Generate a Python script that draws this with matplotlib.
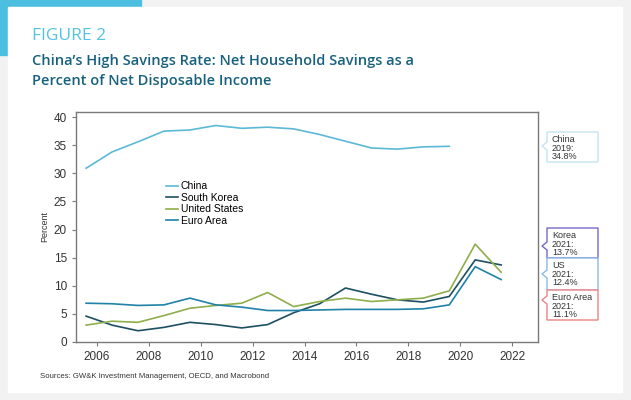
import matplotlib
matplotlib.use("Agg")
import matplotlib.pyplot as plt
from matplotlib.patches import Rectangle, Polygon

# data (annual values plotted mid-year)
years = list(range(2005, 2022))
china = [30.9, 33.8, 35.6, 37.5, 37.7, 38.5, 38.0, 38.2, 37.9, 36.9, 35.7, 34.5, 34.3, 34.7, 34.8]
korea = [4.6, 3.0, 2.0, 2.6, 3.5, 3.1, 2.5, 3.1, 5.2, 6.8, 9.6, 8.5, 7.5, 7.1, 8.1, 14.6, 13.7]
us = [3.0, 3.7, 3.5, 4.7, 6.0, 6.5, 6.9, 8.8, 6.3, 7.2, 7.8, 7.2, 7.5, 7.8, 9.1, 17.4, 12.4]
euro = [6.9, 6.8, 6.5, 6.6, 7.8, 6.6, 6.2, 5.6, 5.6, 5.7, 5.8, 5.8, 5.8, 5.9, 6.6, 13.4, 11.1]
xticks = list(range(2006, 2023, 2))
yticks = list(range(0, 41, 5))

c_china = "#5cb9d6"
c_korea = "#1d4f62"
c_us = "#8fae4c"
c_euro = "#1f82a6"

W, H = 631, 400
fig = plt.figure(figsize=(W / 100, H / 100), dpi=100)
fig.patch.set_facecolor("#f2f2f2")


def fx(x):
    return x / W


def fy(y):
    return 1 - y / H


# accent bar and white card
fig.patches.append(Rectangle((0, fy(55)), fx(141), 55 / H, transform=fig.transFigure,
                             color="#4cbfe0", zorder=0))
fig.patches.append(Rectangle((fx(8), fy(392)), fx(614), 385 / H, transform=fig.transFigure,
                             color="white", zorder=1))

fig.text(fx(32), fy(36), "FIGURE 2", color="#52c3e2", fontsize=12.5, family="Open Sans",
         va="center", ha="left", zorder=3)
fig.text(fx(32), fy(71), "China\u2019s High Savings Rate: Net Household Savings as a\nPercent of Net Disposable Income",
         color="#17617e", fontsize=10.5, family="Open Sans", fontweight="semibold",
         va="center", ha="left", linespacing=1.5, zorder=3)

ax = fig.add_axes([fx(76), fy(342), 462 / W, 230 / H])
ax.set_zorder(3)
off = 0.58
ax.plot([y + off for y in years[:len(china)]], china, color=c_china, lw=1.2, label="China")
ax.plot([y + off for y in years], korea, color=c_korea, lw=1.2, label="South Korea")
ax.plot([y + off for y in years], us, color=c_us, lw=1.2, label="United States")
ax.plot([y + off for y in years], euro, color=c_euro, lw=1.2, label="Euro Area")

ax.set_xlim(2005.19, 2023.0)
ax.set_ylim(0, 40.9)
ax.set_xticks(xticks)
ax.set_yticks(yticks)
for s in ax.spines.values():
    s.set_color("#7a7a7a")
    s.set_linewidth(1.0)
ax.tick_params(colors="#7a7a7a", labelcolor="#333333", labelsize=8.5, length=3)
for lab in ax.get_xticklabels() + ax.get_yticklabels():
    lab.set_family("Liberation Sans")
ax.set_ylabel("Percent", fontsize=6.5, color="#333333", family="Liberation Sans", labelpad=3)

leg = ax.legend(loc="upper left", bbox_to_anchor=(0.175, 0.74), frameon=False,
                prop={"family": "Liberation Sans", "size": 7.5}, handlelength=1.1,
                handletextpad=0.3, labelspacing=0.15)

# end-of-series callout boxes
boxes = [
    (132, 162, 146, "#c4e4f0", "China\n2019:\n34.8%"),
    (228, 258, 246, "#7a68c6", "Korea\n2021:\n13.7%"),
    (258, 290, 274, "#8bb9ea", "US\n2021:\n12.4%"),
    (290, 320, 300, "#ee8383", "Euro Area\n2021:\n11.1%"),
]
x0, x1 = 547, 598
for y0, y1, py, col, txt in boxes:
    pts = [(x0, y0), (x1, y0), (x1, y1), (x0, y1), (x0, py + 4), (x0 - 5, py), (x0, py - 4)]
    fig.patches.append(Polygon([(fx(a), fy(b)) for a, b in pts], closed=True,
                               transform=fig.transFigure, facecolor="white",
                               edgecolor=col, lw=1.0, zorder=4))
    fig.text(fx(x0 + 5), fy(y0 + 3), txt, fontsize=6.5, color="#333333", family="Liberation Sans",
             va="top", ha="left", linespacing=0.95, zorder=5)

fig.text(fx(40), fy(376), "Sources: GW&K Investment Management, OECD, and Macrobond",
         fontsize=5.6, color="#333333", family="Liberation Sans",
         va="center", ha="left", zorder=5)

fig.savefig("out.png", dpi=100, facecolor=fig.get_facecolor())
